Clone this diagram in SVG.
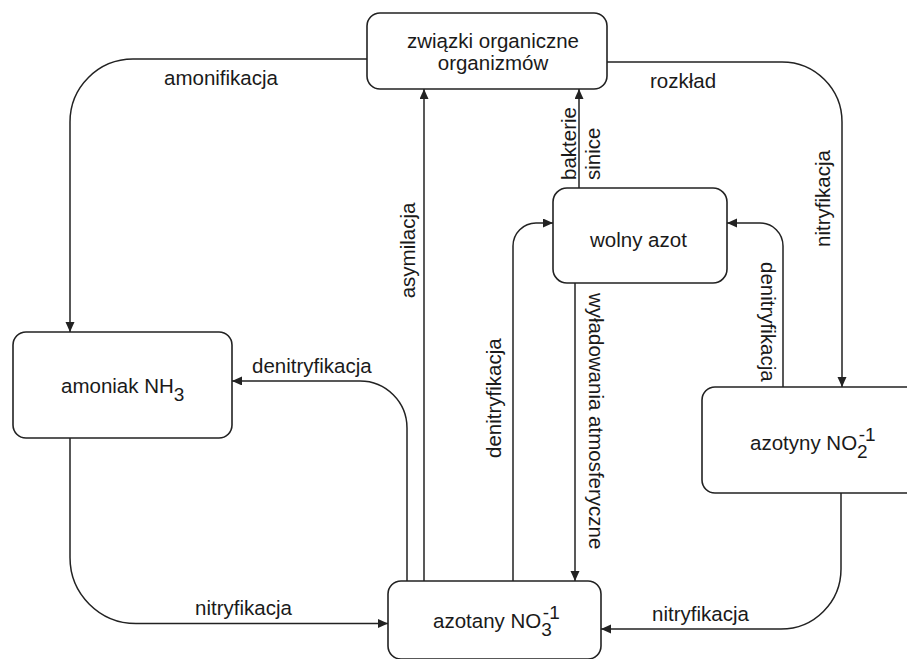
<svg xmlns="http://www.w3.org/2000/svg" width="907" height="659" viewBox="0 0 907 659">
<style>
.box{fill:#fff;stroke:#222;stroke-width:1.6}
.con{fill:none;stroke:#222;stroke-width:1.5}
text{font-family:"Liberation Sans",Arial,sans-serif;font-size:20.5px;fill:#1a1a1a}
.c{text-anchor:middle}
.s{font-size:19px}
</style>
<defs>
<marker id="ah" markerUnits="userSpaceOnUse" markerWidth="11" markerHeight="10" refX="10" refY="4.5" orient="auto" viewBox="0 0 11 10">
<path d="M0,0 L10,4.5 L0,9 z" fill="#222"/>
</marker>
</defs>
<rect width="907" height="659" fill="#fff"/>
<g id="connectors">
<path class="con" marker-end="url(#ah)" d="M367,59 H133 A63,63 0 0 0 70,122 V332"/>
<path class="con" marker-end="url(#ah)" d="M607,62 H782 A60,60 0 0 1 842,122 V387"/>
<path class="con" marker-end="url(#ah)" d="M424,581 V89"/>
<path class="con" marker-end="url(#ah)" d="M579,188 V89"/>
<path class="con" marker-end="url(#ah)" d="M575,283 V581"/>
<path class="con" marker-end="url(#ah)" d="M513,581 V246 A23,23 0 0 1 536,223 H553"/>
<path class="con" marker-end="url(#ah)" d="M783,387 V246 A23,23 0 0 0 760,223 H727"/>
<path class="con" marker-end="url(#ah)" d="M407,581 V428 A47,47 0 0 0 360,381 H232"/>
<path class="con" marker-end="url(#ah)" d="M70,438 V557.5 A66,66 0 0 0 136,623.5 H388"/>
<path class="con" marker-end="url(#ah)" d="M841,493 V569 A60,60 0 0 1 781,629 H601"/>
<text x="164" y="85">amonifikacja</text>
<text x="650" y="88">rozkład</text>
<text x="252" y="373">denitryfikacja</text>
<text x="195" y="615">nitryfikacja</text>
<text x="652" y="621">nitryfikacja</text>
<text class="c" transform="translate(415,250.5) rotate(-90)">asymilacja</text>
<text transform="translate(576,180) rotate(-90)">bakterie</text>
<text transform="translate(600,180) rotate(-90)">sinice</text>
<text transform="translate(829.5,247) rotate(-90)">nitryfikacja</text>
<text transform="translate(501,458) rotate(-90)">denitryfikacja</text>
<text transform="translate(761,262) rotate(90)">denitryfikacja</text>
<text transform="translate(589,293) rotate(90)">wyładowania atmosferyczne</text>
</g>
<g id="zwiazki">
<rect class="box" x="367" y="13" width="240" height="76" rx="13"/>
<text class="c" x="493" y="48">związki organiczne</text>
<text class="c" x="493" y="70">organizmów</text>
</g>
<g id="wolny-azot">
<rect class="box" x="553" y="188" width="174" height="95" rx="14"/>
<text x="590" y="247">wolny azot</text>
</g>
<g id="amoniak">
<rect class="box" x="13" y="332" width="219" height="106" rx="13"/>
<text x="61" y="393">amoniak NH<tspan class="s" dy="8">3</tspan></text>
</g>
<g id="azotany">
<rect class="box" x="388" y="581" width="213" height="78" rx="13"/>
<text x="433" y="628">azotany NO<tspan class="s" dy="8">3</tspan><tspan class="s" dx="-9" dy="-17">-1</tspan></text>
</g>
<g id="azotyny">
<rect class="box" x="702" y="387" width="220" height="106" rx="13"/>
<text x="750" y="450">azotyny NO<tspan class="s" dy="8">2</tspan><tspan class="s" dx="-9" dy="-17">-1</tspan></text>
</g>
</svg>
